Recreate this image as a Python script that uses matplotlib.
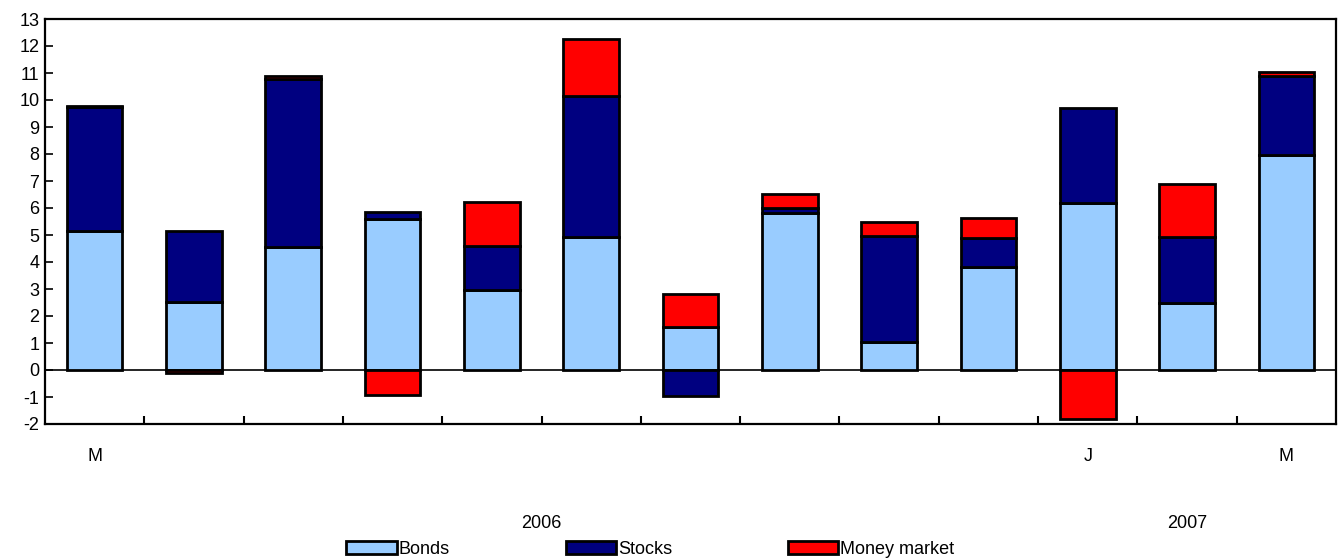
import numpy as np
import matplotlib.pyplot as plt
import matplotlib.transforms as mtransforms

plt.rcParams['font.family'] = ['Liberation Sans', 'DejaVu Sans']
plt.rcParams['axes.unicode_minus'] = False

months = ["M", "", "", "", "", "", "", "", "", "", "J", "", "M"]
bonds = [5.15, 2.51, 4.54, 5.59, 2.96, 4.91, 1.58, 5.80, 1.05, 3.83, 6.17, 2.47, 7.96]
stocks = [4.58, 2.64, 6.24, 0.25, 1.63, 5.25, -0.96, 0.19, 3.93, 1.05, 3.52, 2.44, 2.93]
money = [0.06, -0.12, 0.10, -0.93, 1.63, 2.11, 1.23, 0.53, 0.49, 0.74, -1.83, 1.97, 0.13]
years = ["2006", "2007"]
year_centers = [4.5, 11]

fig = plt.figure(figsize=(13.38, 5.59), dpi=100)
ax = fig.add_axes([45/1338, 135/559, 1291/1338, 405/559])

x = np.arange(len(months))
pos = np.zeros(len(x))
neg = np.zeros(len(x))
series = [("Bonds", bonds, "#99ccff"), ("Stocks", stocks, "#000080"), ("Money market", money, "#ff0000")]
for name, vals, col in series:
    vals = np.array(vals)
    bottom = np.where(vals >= 0, pos, neg)
    ax.bar(x, vals, bottom=bottom, width=0.56, color=col, edgecolor="black",
           linewidth=2.0, label=name, zorder=3)
    pos = pos + np.where(vals >= 0, vals, 0)
    neg = neg + np.where(vals < 0, vals, 0)

ax.axhline(0, color="black", linewidth=1.2, zorder=2)
ax.set_xlim(-0.5, len(x) - 0.5)
ax.set_ylim(-2, 13)
ax.set_yticks(range(-2, 14))
ax.tick_params(axis="y", direction="in", length=6, width=1.2, labelsize=13, pad=4)

ax.set_xticks(x)
ax.set_xticklabels(months)
ax.set_xticks(np.arange(0.5, len(x) - 1, 1), minor=True)
ax.tick_params(axis="x", which="major", length=0, labelsize=13, pad=17)
ax.tick_params(axis="x", which="minor", direction="in", length=6, width=1.5)

for s in ax.spines.values():
    s.set_linewidth(1.6)

trans = mtransforms.blended_transform_factory(ax.transData, ax.transAxes)
for yr, c in zip(years, year_centers):
    ax.text(c, -0.245, yr, transform=trans, ha="center", va="center", fontsize=13)

fig.legend(loc="lower center", bbox_to_anchor=(0.486, -0.027), ncol=3, frameon=False,
           fontsize=13, handlelength=2.8, handleheight=0.8, handletextpad=0.1,
           columnspacing=6.4)

fig.savefig("out.png", dpi=100)
